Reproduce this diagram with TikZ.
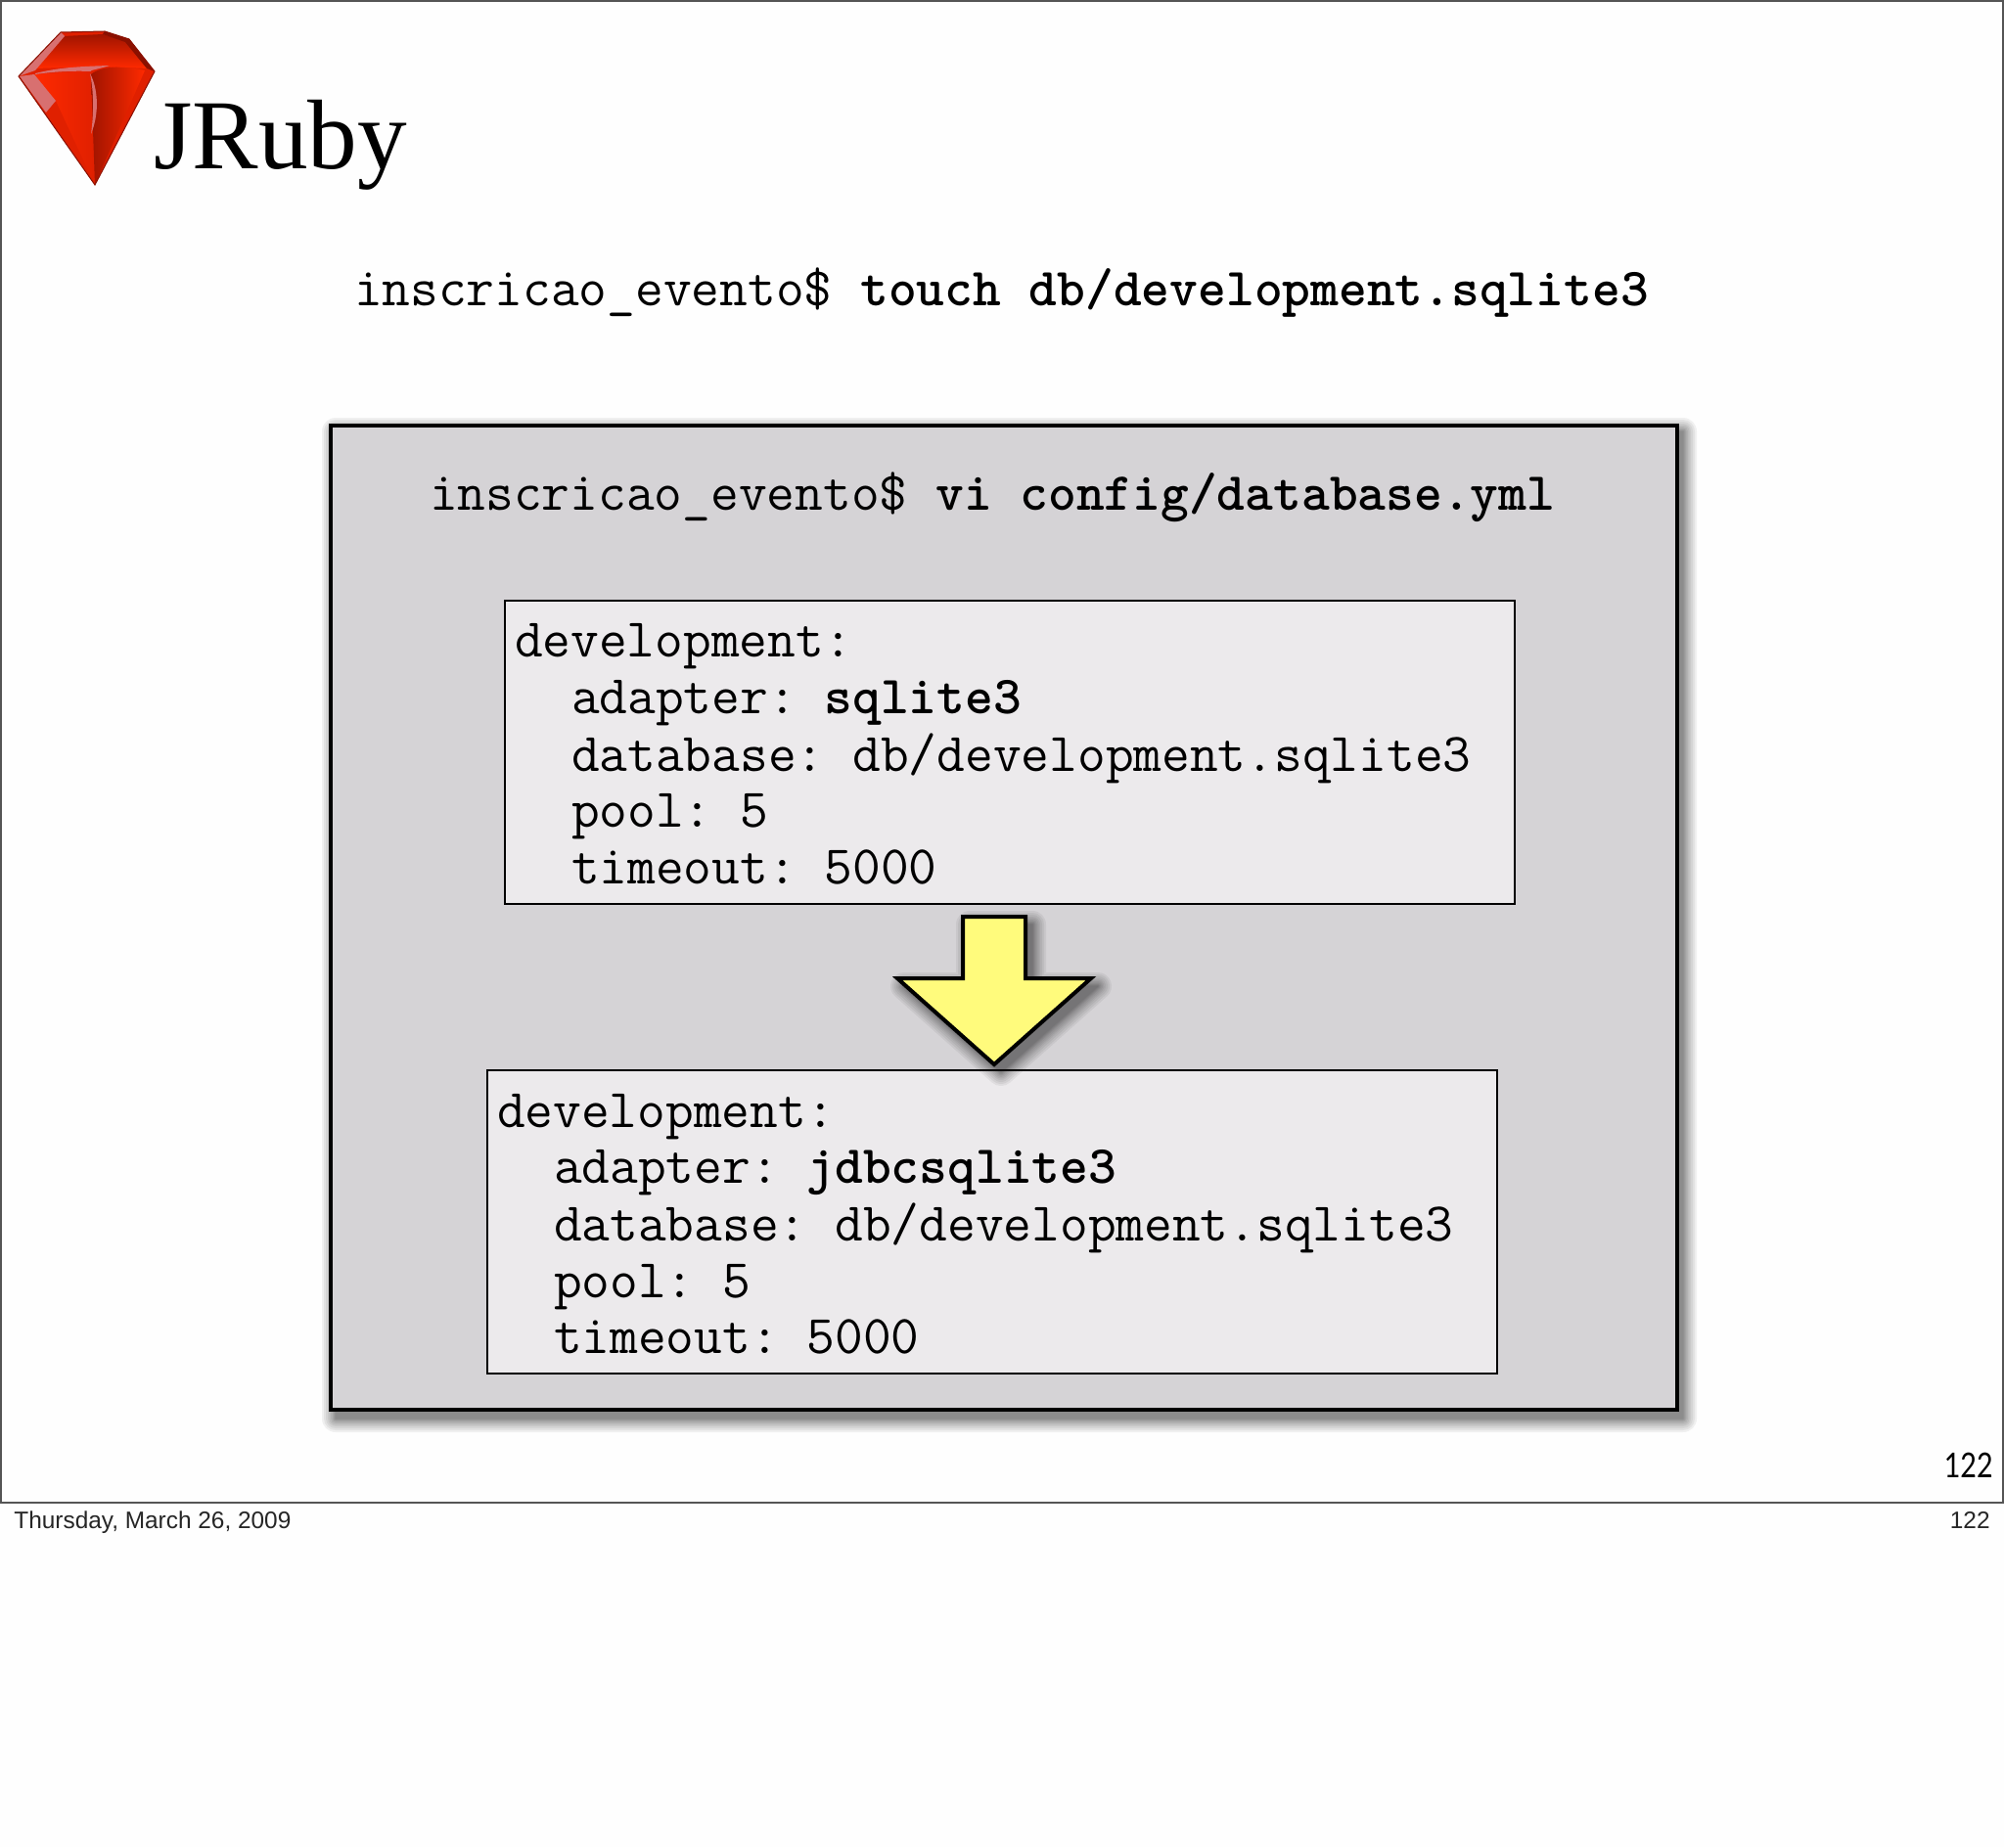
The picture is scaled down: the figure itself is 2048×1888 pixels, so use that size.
\documentclass[tikz,border=0pt]{standalone}
\usepackage{fontspec}
\setmainfont{Liberation Serif}
\newfontfamily\helv{Liberation Sans}
\newfontfamily\gill{Lato}
\definecolor{bgwhite}{HTML}{FEFEFE}
\definecolor{framegray}{HTML}{555555}
\definecolor{outerbox}{HTML}{D5D3D6}
\definecolor{innerbox}{HTML}{ECEAEC}
\definecolor{arrowyellow}{HTML}{FFFB7C}
\definecolor{rubybright}{HTML}{FF2A00}
\definecolor{rubymid}{HTML}{E02000}
\definecolor{rubydark}{HTML}{A01400}
\definecolor{rubyedge}{HTML}{8A1000}
\definecolor{rubypale}{HTML}{D87070}
\newcommand{\softshadow}[1]{%
  \foreach \w in {1,3,5,7,10,13,16,20,24,28}{%
    \begin{scope}[transparency group,opacity=.055]
      \draw[black,fill=black,line width=\w*0.5pt,line join=round,xshift=3.5pt,yshift=-4pt] #1;
    \end{scope}%
  }%
}
\newcommand{\bcmd}[1]{{\fontsize{27.4}{30}\selectfont\bfseries #1}}
\tikzset{
  cmd/.style={anchor=base west,inner sep=0pt,outer sep=0pt,font=\fontsize{27.9}{30}\selectfont\ttfamily\frenchspacing},
  codebox/.style={draw=black,line width=1pt,fill=innerbox,anchor=north west,inner sep=0pt,minimum width=516pt,minimum height=155pt},
  outerpanel/.style={draw=black,line width=2pt,fill=outerbox,anchor=north west,inner sep=0pt,minimum width=688pt,minimum height=503pt},
  foot/.style={inner sep=0pt,font=\fontsize{12.2}{14}\selectfont\helv,text=black!85}
}
\begin{document}
\begin{tikzpicture}[x=0.5pt,y=-0.5pt]
\useasboundingbox (0,0) rectangle (2048,1888);
\fill[bgwhite] (0,0) rectangle (2048,1888);
\draw[framegray,line width=1pt] (1,1) rectangle (2047,1536);

% ruby gem
\fill[rubymid] (19,78) -- (62,33) -- (107,32) -- (132,40) -- (158,73) -- (97,189) -- cycle;
\shade[top color=rubydark,bottom color=rubybright] (36,70) -- (65,37) -- (105,35) -- (130,43) -- (152,70) -- (100,68) -- cycle;
\fill[rubypale] (19,78) -- (62,33) -- (66,37) -- (36,72) -- cycle;
\fill[rubyedge] (107,32) -- (132,40) -- (158,73) -- (150,70) -- (128,43) -- (105,35) -- cycle;
\shade[left color=rubybright,right color=rubymid] (35,76) -- (93,72) -- (97,189) -- (57,103) -- cycle;
\shade[left color=rubydark,right color=rubybright] (93,76) .. controls (105,66) and (130,68) .. (148,72) -- (97,189) -- cycle;
\fill[rubypale] (20,78) -- (35,76) -- (57,103) -- (47,115) -- cycle;
\fill[rubypale] (36,75) .. controls (60,69) and (80,68) .. (112,67) .. controls (100,71) and (90,72) .. (93,73) .. controls (70,72) and (50,74) .. (36,76) -- cycle;
\fill[rubypale] (92,75) .. controls (100,90) and (102,115) .. (93,137) .. controls (96,115) and (96,95) .. (92,75) -- cycle;
\draw[rubyedge,line width=0.5pt] (19,78) -- (62,33) -- (107,32) -- (132,40) -- (158,73) -- (97,189) -- cycle;

\node[anchor=base west,inner sep=0pt,font=\fontsize{50.6}{56}\selectfont] (logo) at (157,173) {JRuby};

\node[cmd] (touch) at (362,313) {inscricao\_evento\$ \bcmd{touch db/development.sqlite3}};

% outer panel
\softshadow{(336,433) rectangle (1713,1442)}
\node[outerpanel] (panel) at (336,433) {};
\node[cmd] (vi) at (439,521) {inscricao\_evento\$ \bcmd{vi config/database.yml}};

% first config box
\node[codebox] (boxa) at (515,613) {};
\node[cmd] (adev) at (526,671) {development:};
\node[cmd] (aadapter) at (584,729) {adapter: \bcmd{sqlite3}};
\node[cmd] (adb) at (584,788) {database: db/development.sqlite3};
\node[cmd] (apool) at (584,845) {pool: 5};
\node[cmd] (atime) at (584,903) {timeout: 5000};

% second config box
\node[codebox] (boxb) at (497,1093) {};
\node[cmd] (bdev) at (508,1152) {development:};
\node[cmd] (badapter) at (566,1209) {adapter: \bcmd{jdbcsqlite3}};
\node[cmd] (bdb) at (566,1268) {database: db/development.sqlite3};
\node[cmd] (bpool) at (566,1326) {pool: 5};
\node[cmd] (btime) at (566,1383) {timeout: 5000};

% arrow
\softshadow{(984,937) -- (1048,937) -- (1048,1000) -- (1115,1000) -- (1016,1088) -- (917,1000) -- (984,1000) -- cycle}
\draw[black,line width=2pt,miter limit=10,fill=arrowyellow] (984,937) -- (1048,937) -- (1048,1000) -- (1115,1000) -- (1016,1088) -- (917,1000) -- (984,1000) -- cycle;

\node[anchor=base east,inner sep=0pt,font=\fontsize{17.5}{20}\selectfont\gill,xscale=.82,transform shape] (pagebig) at (2037,1510) {122};
\node[foot,anchor=base west] (date) at (14,1562) {Thursday, March 26, 2009};
\node[foot,anchor=base east] (pagesmall) at (2034,1562) {122};
\end{tikzpicture}
\end{document}
